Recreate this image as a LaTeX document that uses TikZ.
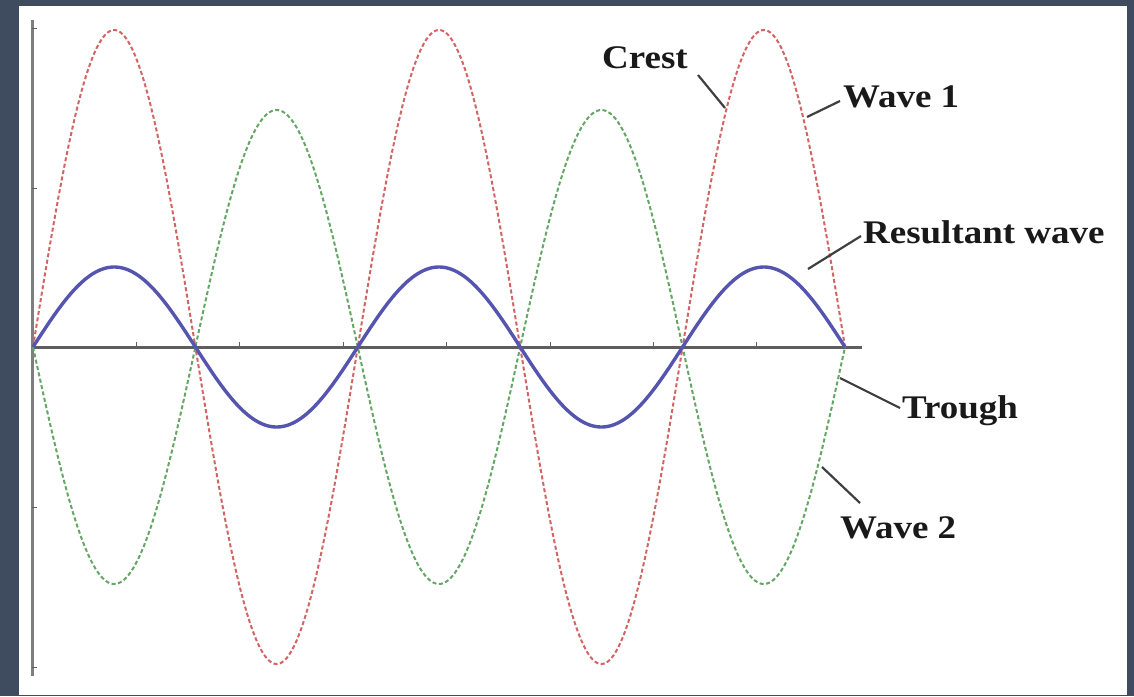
\documentclass[tikz,border=0pt]{standalone}
\usepackage{fontspec}
\newfontfamily\labfont{Liberation Serif}[FakeStretch=1.12]
\definecolor{framebg}{HTML}{3F4B5F}
\definecolor{wred}{HTML}{D26464}
\definecolor{wgreen}{HTML}{64A664}
\definecolor{wblue}{HTML}{5555B0}
\definecolor{axisgray}{HTML}{5E5E5E}
\begin{document}
\begin{tikzpicture}[x=1pt,y=-1pt,
  lab/.style={font={\labfont\bfseries\fontsize{33}{36}\selectfont}, text=black!90, inner sep=0pt, anchor=base west},
  leader/.style={draw=black!75, line width=2.2pt},
  redwave/.style={wred, line width=2pt, dash pattern=on 4pt off 2.5pt},
  greenwave/.style={wgreen, line width=2pt, dash pattern=on 4pt off 2.5pt},
  bluewave/.style={wblue, line width=3.4pt},
  axisline/.style={axisgray, line width=3pt},
  tickmark/.style={axisgray, line width=1pt}]
\useasboundingbox (0,0) rectangle (1134,696);
\fill[framebg] (0,0) rectangle (1134,696);
\fill[white] (19,6) rectangle (1127,695);
% axes
\draw[axisline, draw=axisgray!80] (32,20) -- (32,676);
\draw[axisline] (32,347) -- (862,347);
\foreach \ty in {28,188,507,667} \draw[tickmark] (32,\ty) -- (37,\ty);
\foreach \k in {1,...,7} \draw[tickmark] ({33+103.4*\k},347) -- ({33+103.4*\k},342);
% waves
\draw[greenwave] plot[domain=33:845, samples=500, smooth] (\x, {347+237*sin((\x-33)/162.4*180)});
\draw[redwave] plot[domain=33:845, samples=500, smooth] (\x, {347-317*sin((\x-33)/162.4*180)});
\draw[bluewave] plot[domain=33:845, samples=400, smooth] (\x, {347-80*sin((\x-33)/162.4*180)});
% labels
\node[lab] (crest) at (602,68) {Crest};
\node[lab] (wave1) at (843,107) {Wave 1};
\node[lab] (result) at (863,243) {Resultant wave};
\node[lab] (trough) at (902,418) {Trough};
\node[lab] (wave2) at (840,538) {Wave 2};
% leader ends
\coordinate (crestpt) at (725,108);
\coordinate (wave1pt) at (807,117);
\coordinate (resultpt) at (808,269);
\coordinate (troughpt) at (840,378);
\coordinate (wave2pt) at (822,467);
\coordinate (crestfrom) at (698,75);
\coordinate (wave1from) at (840,101);
\coordinate (resultfrom) at (861,236);
\coordinate (troughfrom) at (900,408);
\coordinate (wave2from) at (860,503);
\draw[leader] (crestfrom) -- (crestpt);
\draw[leader] (wave1from) -- (wave1pt);
\draw[leader] (resultfrom) -- (resultpt);
\draw[leader] (troughfrom) -- (troughpt);
\draw[leader] (wave2from) -- (wave2pt);
\end{tikzpicture}
\end{document}
